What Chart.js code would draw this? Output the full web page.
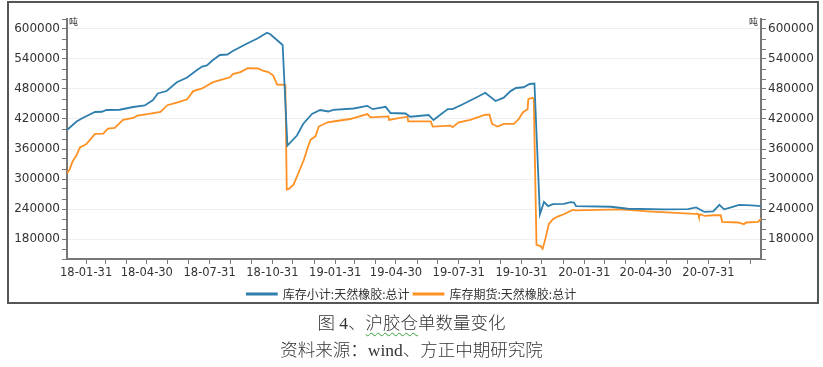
<!DOCTYPE html>
<html>
<head>
<meta charset="utf-8">
<script src="https://cdn.jsdelivr.net/npm/chart.js@4.4.1/dist/chart.umd.min.js"></script>
<style>
    html, body { margin: 0; padding: 0; background: #fff; }
    body { width: 823px; height: 367px; position: relative; overflow: hidden; }
    #frame {
        position: absolute; left: 7px; top: 1px; width: 808px; height: 299px;
        border: 2px solid #555;
    }
    #chartBox { position: absolute; left: 0; top: 0; width: 823px; height: 314px; }
    .caption {
        position: absolute; left: 0; width: 823px; text-align: center;
        font-family: "Liberation Serif", "Noto Sans CJK SC", serif;
        font-weight: 300;
        color: #333; font-size: 17.5px; line-height: 20px;
    }
    .wavy { text-decoration: underline wavy #3aa03a; text-underline-offset: 3px; text-decoration-thickness: 1px; }
</style>
</head>
<body>
<div id="frame"></div>
<div id="chartBox"><canvas id="stockChart"></canvas></div>
<div class="caption" style="top:313px;">图 4、<span class="wavy">沪胶仓</span>单数量变化</div>
<div class="caption" style="top:340px;">资料来源：wind、方正中期研究院</div>

<script>
// Data
const seriesNames = ['库存小计:天然橡胶:总计', '库存期货:天然橡胶:总计'];

const stockDates = [
    '2018-01-03', '2018-01-17', '2018-01-26', '2018-02-13', '2018-02-23', '2018-03-02', '2018-03-21',
    '2018-04-10', '2018-04-27', '2018-05-09', '2018-05-16', '2018-05-29', '2018-06-13', '2018-06-28',
    '2018-07-13', '2018-07-20', '2018-07-27', '2018-08-04', '2018-08-15', '2018-08-26', '2018-09-03',
    '2018-09-24', '2018-10-09', '2018-10-23', '2018-10-28', '2018-11-07', '2018-11-15', '2018-11-22',
    '2018-12-06', '2018-12-15', '2018-12-28', '2019-01-09', '2019-01-21', '2019-01-28', '2019-02-27',
    '2019-03-19', '2019-03-27', '2019-04-15', '2019-04-22', '2019-05-14', '2019-05-21', '2019-06-17',
    '2019-06-24', '2019-07-15', '2019-07-22', '2019-08-06', '2019-08-25', '2019-09-08', '2019-09-23',
    '2019-10-05', '2019-10-15', '2019-10-23', '2019-11-03', '2019-11-12', '2019-11-19', '2019-11-27',
    '2019-12-03', '2019-12-09', '2019-12-16', '2020-01-01', '2020-01-11', '2020-01-16', '2020-01-19',
    '2020-03-10', '2020-04-04', '2020-05-27', '2020-07-01', '2020-07-13', '2020-07-25', '2020-08-07',
    '2020-08-16', '2020-08-23', '2020-09-02', '2020-09-14', '2020-10-02', '2020-10-16'
];
const stockTotal = [
    398000, 415000, 422000, 434000, 434500, 438000, 438500,
    444000, 447000, 458000, 471000, 476000, 493500, 503000,
    518500, 525000, 527000, 537000, 548000, 549000, 556000,
    571000, 581000, 592500, 589500, 577500, 568000, 367000,
    387000, 410000, 430000, 438000, 435000, 438400, 441000,
    446300, 439700, 444300, 432000, 431000, 424600, 428000,
    418000, 439700, 439700, 449600, 462600, 472500, 456000,
    462600, 475800, 482000, 483500, 490000, 491000, 229500,
    254000, 245800, 249800, 250400, 253700, 253000, 245800,
    244500, 240500, 239300, 239800, 243300, 234100, 235400,
    248400, 239300, 243300, 248400, 247200, 245800
];

const futuresDates = [
    '2018-01-03', '2018-01-07', '2018-01-11', '2018-01-17', '2018-01-22', '2018-01-29', '2018-02-01',
    '2018-02-13', '2018-02-25', '2018-03-04', '2018-03-14', '2018-03-19', '2018-03-26', '2018-04-10',
    '2018-04-16', '2018-05-01', '2018-05-20', '2018-05-30', '2018-06-13', '2018-06-28', '2018-07-07',
    '2018-07-20', '2018-08-05', '2018-08-18', '2018-08-30', '2018-09-03', '2018-09-14', '2018-09-25',
    '2018-10-10', '2018-10-17', '2018-10-25', '2018-11-01', '2018-11-07', '2018-11-19', '2018-11-21',
    '2018-11-24', '2018-12-01', '2018-12-05', '2018-12-11', '2018-12-16', '2018-12-22', '2018-12-26',
    '2019-01-02', '2019-01-07', '2019-01-20', '2019-01-28', '2019-02-22', '2019-03-19', '2019-03-24',
    '2019-04-19', '2019-04-20', '2019-05-02', '2019-05-17', '2019-05-18', '2019-06-20', '2019-06-23',
    '2019-07-19', '2019-07-22', '2019-07-31', '2019-08-17', '2019-09-08', '2019-09-14', '2019-09-18',
    '2019-09-26', '2019-10-05', '2019-10-20', '2019-10-27', '2019-11-02', '2019-11-09', '2019-11-10',
    '2019-11-16', '2019-11-18', '2019-11-22', '2019-11-28', '2019-12-01', '2019-12-05', '2019-12-10',
    '2019-12-16', '2019-12-23', '2020-01-01', '2020-01-14', '2020-01-19', '2020-02-20', '2020-03-20',
    '2020-04-04', '2020-05-03', '2020-06-06', '2020-07-10', '2020-07-16', '2020-07-17', '2020-07-20',
    '2020-07-25', '2020-08-08', '2020-08-18', '2020-08-20', '2020-09-12', '2020-09-21', '2020-09-24',
    '2020-10-12', '2020-10-16'
];
const futuresTotal = [
    311600, 319500, 334500, 347700, 363000, 368000, 370700,
    390400, 390800, 400900, 402000, 408800, 418100, 422000,
    426600, 429900, 434400, 447600, 452800, 459500, 475800,
    481100, 493600, 498900, 503400, 509900, 513900, 521700,
    521000, 516500, 513900, 507400, 489000, 488400, 279000,
    280300, 288600, 301800, 321500, 337900, 364000, 378600,
    385200, 404900, 413400, 415000, 420000, 429900, 423200,
    425200, 418100, 421300, 424600, 415300, 415300, 404900,
    406900, 403600, 413400, 418100, 428500, 428500, 410100,
    404900, 410100, 410100, 420000, 433100, 439700, 459500,
    462600, 460000, 168400, 165800, 160500, 180200, 209700,
    219600, 224900, 229500, 238100, 237400, 238100, 239300,
    238100, 235300, 232800, 230100, 230100, 225000, 229500,
    226100, 227500, 227500, 214300, 213000, 209700, 213000,
    214300, 220900
];

const xTickLabels = ['18-01-31', '18-04-30', '18-07-31', '18-10-31', '19-01-31', '19-04-30',
    '19-07-31', '19-10-31', '20-01-31', '20-04-30', '20-07-31'];
const yTickLabels = [180000, 240000, 300000, 360000, 420000, 480000, 540000, 600000];
const yMin = 140000, yMax = 620000, yMinorStep = 20000;

// helpers: dates -> day number since 2018-01-01
const DAY = 86400000;
const BASE = Date.UTC(2018, 0, 1);
function dayNum(s) {
    const p = s.split('-').map(Number);
    return (Date.UTC(p[0], p[1] - 1, p[2]) - BASE) / DAY;
}
function dayLabel(n) {
    const d = new Date(BASE + n * DAY);
    const yy = String(d.getUTCFullYear()).slice(2);
    const mm = String(d.getUTCMonth() + 1).padStart(2, '0');
    const dd = String(d.getUTCDate()).padStart(2, '0');
    return yy + '-' + mm + '-' + dd;
}
function toPoints(dates, values) {
    return dates.map((d, i) => ({ x: dayNum(d), y: values[i] }));
}

const xMin = dayNum(stockDates[0]);
const xMax = dayNum(stockDates[stockDates.length - 1]);

// month-end tick marks
function monthEndTicks() {
    const ticks = [];
    for (let y = 2018; y <= 2020; y++) {
        for (let m = 0; m < 12; m++) {
            const n = (Date.UTC(y, m + 1, 0) - BASE) / DAY;
            if (n >= xMin && n <= xMax) ticks.push({ value: n });
        }
    }
    return ticks;
}
function yMinorTicks() {
    const ticks = [];
    for (let v = yMin; v <= yMax; v += yMinorStep) ticks.push({ value: v });
    return ticks;
}

const axisColor = '#777';
const labelFont = { family: 'DejaVu Sans', size: 12 };

function yAxis(position, onArea) {
    return {
        type: 'linear',
        position: position,
        min: yMin,
        max: yMax,
        afterBuildTicks: scale => { scale.ticks = yMinorTicks(); },
        afterFit: scale => { scale.width = position === 'left' ? 67 : 62; },
        ticks: {
            autoSkip: false,
            color: '#333',
            font: labelFont,
            padding: 2,
            callback: v => yTickLabels.includes(v) ? String(v) : ''
        },
        grid: {
            drawOnChartArea: onArea,
            color: c => (c.tick && yTickLabels.includes(c.tick.value)) ? '#efefef' : 'rgba(0,0,0,0)',
            tickColor: axisColor,
            tickLength: 5,
            lineWidth: 1
        },
        border: { color: axisColor, width: 2 }
    };
}

// small unit labels at the top of both axes
const unitLabels = {
    id: 'unitLabels',
    afterDraw(chart) {
        const { ctx, chartArea } = chart;
        ctx.save();
        ctx.font = '9px "Noto Sans CJK SC"';
        ctx.fillStyle = '#333';
        ctx.textBaseline = 'middle';
        ctx.textAlign = 'left';
        ctx.fillText('吨', chartArea.left + 2, chartArea.top + 3);
        ctx.textAlign = 'right';
        ctx.fillText('吨', chartArea.right - 3, chartArea.top + 3);
        ctx.restore();
    }
};

document.addEventListener('DOMContentLoaded', function() {
    const ctx = document.getElementById('stockChart');
    new Chart(ctx, {
        type: 'line',
        data: {
            datasets: [{
                label: seriesNames[0],
                data: toPoints(stockDates, stockTotal),
                borderColor: '#2f7fae',
                backgroundColor: '#2f7fae',
                borderWidth: 1.8,
                pointRadius: 0,
                tension: 0
            }, {
                label: seriesNames[1],
                data: toPoints(futuresDates, futuresTotal),
                borderColor: '#ff9124',
                backgroundColor: '#ff9124',
                borderWidth: 1.8,
                pointRadius: 0,
                tension: 0
            }]
        },
        options: {
            responsive: true,
            maintainAspectRatio: false,
            animation: false,
            layout: { padding: { top: 19, bottom: 4, left: 0, right: 0 } },
            plugins: {
                legend: {
                    position: 'bottom',
                    labels: {
                        boxWidth: 30,
                        boxHeight: 1,
                        padding: 4,
                        color: '#333',
                        font: { family: 'Noto Sans CJK SC', size: 12 }
                    }
                },
                tooltip: { enabled: false }
            },
            scales: {
                x: {
                    type: 'linear',
                    min: xMin,
                    max: xMax,
                    afterBuildTicks: scale => { scale.ticks = monthEndTicks(); },
                    afterFit: scale => { scale.height = 25; },
                    ticks: {
                        autoSkip: false,
                        maxRotation: 0,
                        color: '#333',
                        font: { family: 'DejaVu Sans', size: 11.5 },
                        padding: 2,
                        callback: v => {
                            const s = dayLabel(v);
                            return xTickLabels.includes(s) ? s : '';
                        }
                    },
                    grid: {
                        drawOnChartArea: false,
                        tickColor: axisColor,
                        tickLength: 5
                    },
                    border: { color: axisColor, width: 2 }
                },
                y: yAxis('left', true),
                y2: yAxis('right', false)
            }
        },
        plugins: [unitLabels]
    });
});
</script>
</body>
</html>
